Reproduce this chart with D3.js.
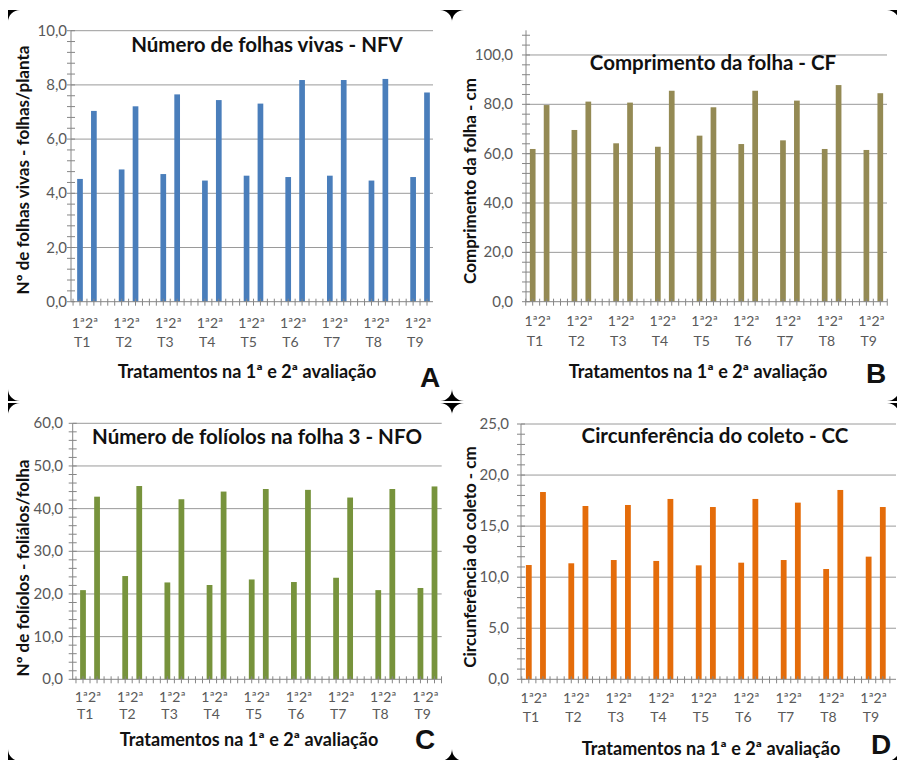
<!DOCTYPE html>
<html>
<head>
<meta charset="utf-8">
<script src="https://cdnjs.cloudflare.com/ajax/libs/d3/7.8.5/d3.min.js"></script>
<style>
  body { margin: 0; background: #fff; }
  svg { display: block; }
</style>
</head>
<body>
<div id="chart"></div>
<script>
// treatments and the two evaluations
const treatments = ["T1", "T2", "T3", "T4", "T5", "T6", "T7", "T8", "T9"];
const evalLabel = "1ª2ª";

// A - número de folhas vivas
const nfv1 = [4.53, 4.88, 4.71, 4.47, 4.65, 4.60, 4.65, 4.47, 4.60];
const nfv2 = [7.04, 7.21, 7.65, 7.44, 7.31, 8.18, 8.18, 8.22, 7.72];
// B - comprimento da folha
const cf1 = [61.9, 69.6, 64.2, 62.8, 67.3, 63.9, 65.4, 61.9, 61.5];
const cf2 = [79.7, 81.1, 80.7, 85.5, 78.8, 85.5, 81.5, 87.8, 84.5];
// C - número de folíolos na folha 3
const nfo1 = [20.9, 24.2, 22.7, 22.1, 23.4, 22.8, 23.8, 20.9, 21.4];
const nfo2 = [42.8, 45.3, 42.2, 44.0, 44.6, 44.4, 42.6, 44.6, 45.2];
// D - circunferência do coleto
const cc1 = [11.19, 11.36, 11.68, 11.59, 11.16, 11.42, 11.68, 10.80, 12.01];
const cc2 = [18.34, 16.97, 17.07, 17.66, 16.87, 17.66, 17.30, 18.54, 16.87];

const W = 897, H = 760;
const fmt = d3.formatLocale({decimal: ",", thousands: ".", grouping: [3], currency: ["", ""]}).format(".1f");
const font = "Lato, 'Open Sans', sans-serif";

const svg = d3.select("#chart").append("svg")
    .attr("width", W)
    .attr("height", H);

// panel settings (layout only)
const panels = [
  {v1: nfv1, v2: nfv2, color: "#4a7ebb", yMax: 10, major: 2, minor: 0.4,
   left: 71, right: 433, top: 30.7, bottom: 301.7, c1: 80, c2: 427,
   title: "Número de folhas vivas - NFV", tx: 267, ty: 52,
   ytitle: "Nº de folhas vivas - folhas/planta", yx: 23, yy: 170, lx: 67,
   xl1: 328, xl2: 347, xtx: 247, xty: 378, letter: "A", lex: 430, ley: 387},
  {v1: cf1, v2: cf2, color: "#948a54", yMax: 110, major: 20, minor: 4,
   left: 526, right: 887, top: 30.3, bottom: 301.7, c1: 532.7, c2: 880.3,
   title: "Comprimento da folha - CF", tx: 713, ty: 70,
   ytitle: "Comprimento da folha - cm", yx: 470, yy: 181, lx: 513,
   xl1: 326, xl2: 346, xtx: 698, xty: 378, letter: "B", lex: 876, ley: 383},
  {v1: nfo1, v2: nfo2, color: "#77933c", yMax: 60, major: 10, minor: 2,
   left: 72.7, right: 441.7, top: 423.3, bottom: 679.3, c1: 83, c2: 434.5,
   title: "Número de folíolos na folha 3 - NFO", tx: 257, ty: 444,
   ytitle: "Nº de folíolos - foliálos/folha", yx: 23, yy: 568, lx: 63,
   xl1: 702, xl2: 719, xtx: 249, xty: 746, letter: "C", lex: 425, ley: 749},
  {v1: cc1, v2: cc2, color: "#e46c0a", yMax: 25, major: 5, minor: 1,
   left: 521, right: 896, top: 424, bottom: 679.3, c1: 528.8, c2: 882.8,
   title: "Circunferência do coleto - CC", tx: 715, ty: 443,
   ytitle: "Circunferência do coleto - cm", yx: 470, yy: 557, lx: 509,
   xl1: 703, xl2: 722, xtx: 711, xty: 755, letter: "D", lex: 881, ley: 754}
];

panels.forEach(p => {
    const g = svg.append("g");

    // one slot per bar: 1ª and 2ª of each treatment with an empty slot between groups
    const slots = d3.range(treatments.length * 3 - 1);
    const step = (p.c2 - p.c1) / (slots.length - 1);
    const x = d3.scaleBand()
        .domain(slots)
        .range([p.c1 - step / 2, p.c2 + step / 2])
        .paddingInner(0.59)
        .paddingOuter(0.295);

    const y = d3.scaleLinear()
        .domain([0, p.yMax])
        .range([p.bottom, p.top]);

    const majors = d3.range(0, p.yMax + 1e-9, p.major);
    const minors = d3.range(0, p.yMax + 1e-9, p.minor);

    // gridlines
    g.selectAll(".grid").data(majors.filter(d => d > 0))
        .join("line")
        .attr("x1", p.left).attr("x2", p.right)
        .attr("y1", d => y(d)).attr("y2", d => y(d))
        .attr("stroke", "#9a9a9a").attr("stroke-width", 1);

    // bars
    const data = [];
    treatments.forEach((t, i) => {
        data.push({slot: i * 3, v: p.v1[i]});
        data.push({slot: i * 3 + 1, v: p.v2[i]});
    });
    g.selectAll(".bar").data(data)
        .join("rect")
        .attr("x", d => x(d.slot))
        .attr("width", x.bandwidth())
        .attr("y", d => y(d.v))
        .attr("height", d => y(0) - y(d.v))
        .attr("fill", p.color);

    // y axis line and ticks
    g.append("line")
        .attr("x1", p.left).attr("x2", p.left)
        .attr("y1", y(0)).attr("y2", y(p.yMax))
        .attr("stroke", "#868686");
    g.selectAll(".ytick").data(minors)
        .join("line")
        .attr("x1", p.left - 4).attr("x2", p.left + 4)
        .attr("y1", d => y(d)).attr("y2", d => y(d))
        .attr("stroke", "#868686");
    g.selectAll(".ylab").data(majors)
        .join("text")
        .attr("x", p.lx).attr("y", d => y(d) + 5)
        .attr("text-anchor", "end")
        .attr("font-family", font)
        .attr("font-size", 15)
        .attr("fill", "#595959")
        .text(d => fmt(d));

    // x axis line and ticks (every half slot)
    g.append("line")
        .attr("x1", p.left).attr("x2", p.right)
        .attr("y1", y(0)).attr("y2", y(0))
        .attr("stroke", "#868686");
    const xt = [];
    for (let v = p.c1 - step / 2; v <= p.right + 0.5; v += step / 2) {
        if (v >= p.left - 0.5) xt.push(v);
    }
    g.selectAll(".xtick").data(xt)
        .join("line")
        .attr("x1", d => d).attr("x2", d => d)
        .attr("y1", y(0) - 3).attr("y2", y(0) + 4)
        .attr("stroke", "#868686");

    // category labels
    const cx = i => x(i * 3) + x.bandwidth() / 2;
    g.selectAll(".evl").data(treatments)
        .join("text")
        .attr("x", (d, i) => cx(i) + 5)
        .attr("y", p.xl1)
        .attr("text-anchor", "middle")
        .attr("font-family", font)
        .attr("font-size", 14)
        .attr("fill", "#595959")
        .text(evalLabel);
    g.selectAll(".trl").data(treatments)
        .join("text")
        .attr("x", (d, i) => cx(i) - 6)
        .attr("y", p.xl2)
        .attr("font-family", font)
        .attr("font-size", 14)
        .attr("fill", "#595959")
        .text(d => d);

    // titles
    g.append("text")
        .attr("x", p.tx).attr("y", p.ty)
        .attr("text-anchor", "middle")
        .attr("font-family", font)
        .attr("font-weight", "bold")
        .attr("font-size", 20.5)
        .attr("fill", "#111")
        .text(p.title);
    g.append("text")
        .attr("transform", "translate(" + p.yx + "," + p.yy + ") rotate(-90)")
        .attr("text-anchor", "middle")
        .attr("dy", "0.35em")
        .attr("font-family", font)
        .attr("font-weight", "bold")
        .attr("font-size", 17)
        .attr("fill", "#111")
        .text(p.ytitle);
    g.append("text")
        .attr("x", p.xtx).attr("y", p.xty)
        .attr("text-anchor", "middle")
        .attr("font-family", font)
        .attr("font-weight", "bold")
        .attr("font-size", 18)
        .attr("fill", "#111")
        .text("Tratamentos na 1ª e 2ª avaliação");
    g.append("text")
        .attr("x", p.lex).attr("y", p.ley)
        .attr("text-anchor", "middle")
        .attr("font-family", "'Liberation Sans', Arial, sans-serif")
        .attr("font-weight", "bold")
        .attr("font-size", 28)
        .attr("fill", "#111")
        .text(p.letter);
});

// black corner marks of the four framed panels
const frames = [
  [8, 10, 452, 401], [452, 10, 899, 401],
  [8, 403, 452, 761], [452, 403, 899, 761]
];
const r = 12;
const corner = (cx0, cy0, sx, sy) =>
    "M" + cx0 + "," + cy0 +
    " L" + (cx0 + sx * r) + "," + cy0 +
    " A" + r + "," + r + " 0 0 " + (sx * sy > 0 ? 0 : 1) + " " + cx0 + "," + (cy0 + sy * r) + " Z";
frames.forEach(f => {
    [[f[0], f[1], 1, 1], [f[2], f[1], -1, 1], [f[0], f[3], 1, -1], [f[2], f[3], -1, -1]]
        .forEach(c => {
            svg.append("path")
                .attr("d", corner(c[0], c[1], c[2], c[3]))
                .attr("fill", "#000");
        });
});
</script>
</body>
</html>
